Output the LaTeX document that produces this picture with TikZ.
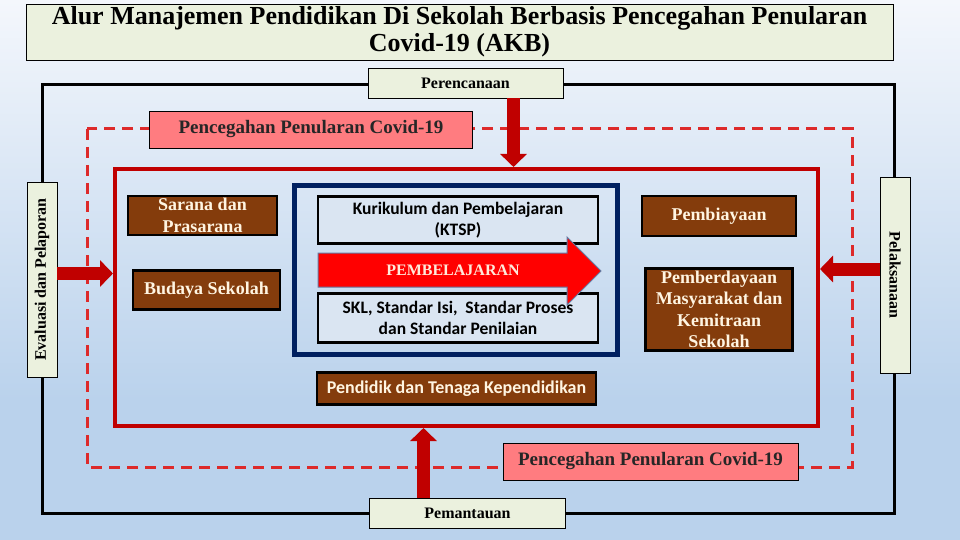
\documentclass[tikz,border=0pt]{standalone}
\usepackage{fontspec}
\setmainfont{Liberation Serif}
\newfontfamily\calibri{Carlito}
\usepackage{xcolor}
\usetikzlibrary{arrows.meta}
\usetikzlibrary{calc}
\definecolor{akbgreen}{HTML}{EBF1DE}
\definecolor{akbpink}{HTML}{FF7C80}
\definecolor{akbred}{HTML}{C00000}
\definecolor{akbdash}{HTML}{DD2A2A}
\definecolor{akbbrown}{HTML}{843C0C}
\definecolor{akbcream}{HTML}{FFF5E2}
\definecolor{akbnavy}{HTML}{002060}
\definecolor{akbpale}{HTML}{DAE5F2}
\definecolor{skytop}{HTML}{F4F7FC}
\definecolor{skylow}{HTML}{BAD2EC}
\tikzset{
	greenbox/.style={draw=black, line width=0.8pt, fill=akbgreen, inner sep=0pt, align=center},
	pinkbox/.style={draw=black, line width=0.8pt, fill=akbpink, inner sep=0pt,
		font=\bfseries\fontsize{19}{21}\selectfont, text=black!85},
	brownbox/.style={draw=black, line width=2.5pt, fill=akbbrown, text=akbcream, inner sep=0pt,
		align=center, font=\bfseries\fontsize{18}{21.5}\selectfont},
	palebox/.style={draw=black, line width=2.2pt, fill=akbpale, inner sep=0pt,
		align=center, font=\calibri\bfseries\fontsize{17.5}{21}\selectfont},
	bigarrow/.style={draw=akbred, line width=13pt, -{Triangle[width=26pt,length=13pt]}},
}
\begin{document}
\begin{tikzpicture}[x=1pt, y=-1pt]
	\useasboundingbox (0,0) rectangle (960,540);

	% background
	\shade[top color=skytop, bottom color=skylow] (0,0) rectangle (960,400);
	\shade[top color=skylow, middle color=skytop!90!skylow, bottom color=skylow] (0,400) rectangle (960,540);

	% title
	\node[greenbox, minimum width=867, minimum height=56, font=\bfseries\fontsize{26}{27}\selectfont]
		(title) at (459.5,32) {Alur Manajemen Pendidikan Di Sekolah Berbasis Pencegahan Penularan\\Covid-19 (AKB)};

	% frames
	\draw[line width=3pt] (42,85) rectangle (894,513);
	\draw[akbdash, line width=3pt, dash pattern=on 11pt off 7pt] (87,129) rectangle (852,467);
	\node[draw=akbred, line width=4pt, minimum width=703, minimum height=257] (core) at (466.5,297.5) {};
	\draw[akbnavy, line width=5pt] (294,185) rectangle (617,354);

	\path (311,129.5) node[pinkbox, minimum width=323, minimum height=37] (covtop) {Pencegahan Penularan Covid-19}
	(650.5,461.5) node[pinkbox, minimum width=295, minimum height=37] (covbot) {Pencegahan Penularan Covid-19};

	% four stages
	\node[greenbox, minimum width=195, minimum height=30, font=\bfseries\fontsize{16}{18}\selectfont]
		(perenc) at (465.5,83) {Perencanaan};
	\node[greenbox, minimum width=196, minimum height=30, font=\bfseries\fontsize{16}{18}\selectfont]
		(pemantau) at (467.5,513) {Pemantauan};
	\node[greenbox, minimum width=30, minimum height=195, font=\bfseries\fontsize{16}{18}\selectfont]
		(evalbox) at (42,279.5) {\rotatebox{90}{Evaluasi dan Pelaporan}};
	\node[greenbox, minimum width=30, minimum height=196, font=\bfseries\fontsize{16}{18}\selectfont]
		(pelbox) at (895,275) {\rotatebox{-90}{Pelaksanaan}};

	\coordinate (plan) at ($(perenc.south)+(48,0)$);
	\coordinate (mon) at ($(pemantau.north)+(-44,0)$);
	\coordinate (eval) at ($(evalbox.east)+(0,-6)$);
	\coordinate (pel) at ($(pelbox.west)+(0,-6)$);

	\draw[bigarrow] (plan) -- (plan |- core.north);
	\draw[bigarrow] (mon) -- (mon |- core.south);
	\draw[bigarrow] (eval) -- (eval -| core.west);
	\draw[bigarrow] (pel) -- (pel -| core.east);

	% components
	\node[brownbox, minimum width=149, minimum height=39] (sarana) at (202.5,215.5) {Sarana dan\\Prasarana};
	\node[brownbox, minimum width=147, minimum height=39] (budaya) at (206.5,290) {Budaya Sekolah};
	\node[brownbox, minimum width=154, minimum height=40] (biaya) at (719,216) {Pembiayaan};
	\node[brownbox, minimum width=147, minimum height=82] (berdaya) at (719,309.5)
		{Pemberdayaan\\Masyarakat dan\\Kemitraan\\Sekolah};
	\node[brownbox, minimum width=279, minimum height=32, font=\calibri\bfseries\fontsize{18}{20}\selectfont]
		(pendidik) at (456.5,388.5) {Pendidik dan Tenaga Kependidikan};

	\node[palebox, minimum width=280, minimum height=47] (kurik) at (458,220) {Kurikulum dan Pembelajaran\\(KTSP)};
	\node[palebox, minimum width=280, minimum height=49] (skl) at (458,318) {SKL, Standar Isi,~ Standar Proses\\dan Standar Penilaian};

	\draw[fill=red, draw=akbnavy!60, line width=1pt]
		(318,253) -- (567,253) -- (567,237) -- (601,271) -- (567,305) -- (567,287) -- (318,287) -- cycle;
	\node[text=akbcream!80!pink, font=\bfseries\fontsize{16}{18}\selectfont] (pemb) at (453,270) {PEMBELAJARAN};

\end{tikzpicture}
\end{document}
